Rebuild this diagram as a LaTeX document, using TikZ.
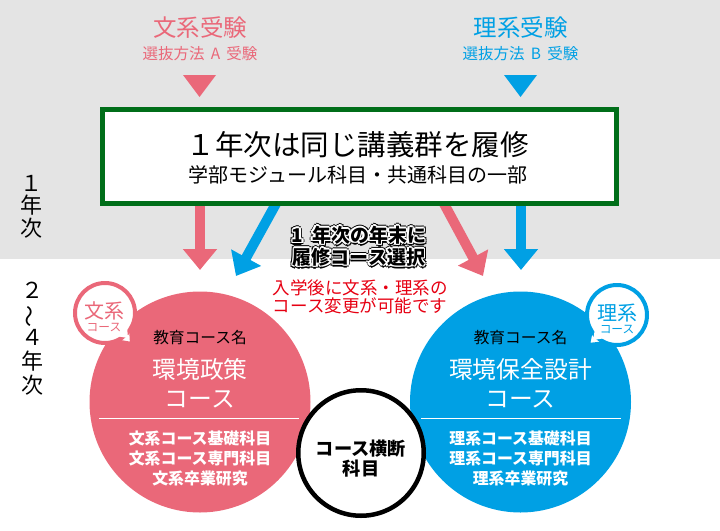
\documentclass[tikz,border=0pt]{standalone}
\usepackage{fontspec}
\setmainfont{Noto Sans CJK JP}
\usetikzlibrary{arrows.meta,calc}

\definecolor{bunpink}{RGB}{234,104,121}
\definecolor{riblue}{RGB}{0,160,228}
\definecolor{boxgreen}{RGB}{0,110,25}
\definecolor{bggray}{RGB}{228,228,228}
\definecolor{notered}{RGB}{230,0,18}

\newcommand{\fsz}[2]{\fontsize{#1}{#2}\selectfont}
\newcommand{\seltext}{1\hspace{0.45em}年次の年末に\\履修コース選択}

\tikzset{
  txt/.style={inner sep=0pt,align=center},
  bigarrow/.style={line width=10pt,-{Triangle[width=33pt,length=21pt]}},
  course/.style={circle,minimum size=221pt,inner sep=0pt},
  bubble/.style={circle,fill=white,line width=4pt,minimum size=60pt,inner sep=0pt},
  sellbl/.style={txt,font=\fsz{19}{22}\bfseries},
}

\begin{document}
\begin{tikzpicture}[x=1pt,y=-1pt]
\useasboundingbox (0,0) rectangle (720,530);
\fill[bggray] (0,0) rectangle (720,259);

% entrance exams
\node[txt,text=bunpink,font=\fsz{23.5}{26}] (bunexam) at (200,28) {文系受験};
\node[txt,text=bunpink,font=\fsz{15.5}{17}] (bunsel) at (200,53.5) {選抜方法\hspace{0.4em}A\hspace{0.4em}受験};
\fill[bunpink] (183,75) -- (216,75) -- (199.5,97) -- cycle;
\node[txt,text=riblue,font=\fsz{23.5}{26}] (riexam) at (520.5,28) {理系受験};
\node[txt,text=riblue,font=\fsz{15.5}{17}] (risel) at (520.5,53.5) {選抜方法\hspace{0.4em}B\hspace{0.4em}受験};
\fill[riblue] (504,75) -- (537,75) -- (520.5,97) -- cycle;

% year labels
\node[txt,font=\fsz{22}{22.5}] (year1) at (31,206.5) {１\\年\\次};
\node[txt,font=\fsz{22}{23.75}] (year24) at (32,338.5) {２\\\rotatebox[origin=c]{90}{〜}\\４\\年\\次};

% arrows to the courses
\coordinate (bunS) at (200,200);
\coordinate (bunT) at (200,270);
\coordinate (riS) at (521,200);
\coordinate (riT) at (521,270);
\coordinate (crossbS) at (278,200);
\coordinate (crossbT) at (236,276);
\coordinate (crosspS) at (442,200);
\coordinate (crosspT) at (483,276);
\draw[bigarrow,bunpink] (bunS) -- (bunT);
\draw[bigarrow,riblue] (crossbS) -- (crossbT);
\draw[bigarrow,bunpink] (crosspS) -- (crosspT);
\draw[bigarrow,riblue] (riS) -- (riT);

% first year box
\node[draw=boxgreen,line width=5pt,fill=white,minimum width=514pt,minimum height=94pt,inner sep=0pt] (firstyear) at (359.5,156.5) {};
\node[txt,font=\fsz{28.5}{30}] (fytitle) at (357.5,144.5) {１年次は同じ講義群を履修};
\node[txt,font=\fsz{20}{22}] (fysub) at (358,174.5) {学部モジュール科目・共通科目の一部};

% course selection label
\coordinate (selpos) at (359,246);
\foreach \a in {0,45,...,315}
  \node[sellbl,text=black] (haloout\a) at ($(selpos)+(\a:2.8pt)$) {\seltext};
\foreach \a in {0,45,...,315}
  \node[sellbl,text=white] (haloin\a) at ($(selpos)+(\a:1.7pt)$) {\seltext};
\node[sellbl,text=black] (selection) at (selpos) {\seltext};
\node[txt,text=notered,font=\fsz{17.5}{18}] (change) at (360,296.5) {入学後に文系・理系の\\コース変更が可能です};

% courses
\node[course,fill=bunpink] (bunc) at (200,402) {};
\node[course,fill=riblue] (ric) at (520.5,402) {};
\draw[white,line width=1pt] (99,418) -- (299,418);
\draw[white,line width=1pt] (421,418) -- (621,418);

\node[txt,font=\fsz{15.7}{18}] (bunlbl) at (200,338) {教育コース名};
\node[txt,text=white,font=\fsz{23.8}{29}] (bunname) at (200,383.5) {環境政策\\コース};
\node[txt,text=white,font=\fsz{15.9}{20}\bfseries] (bunsubj) at (200,458.5) {文系コース基礎科目\\文系コース専門科目\\文系卒業研究};

\node[txt,font=\fsz{15.7}{18}] (rilbl) at (520.5,338) {教育コース名};
\node[txt,text=white,font=\fsz{23.8}{29}] (riname) at (520.5,383.5) {環境保全設計\\コース};
\node[txt,text=white,font=\fsz{15.9}{20}\bfseries] (risubj) at (520.5,458.5) {理系コース基礎科目\\理系コース専門科目\\理系卒業研究};

% bubbles
\filldraw[draw=bunpink,fill=white,line width=4pt,line join=round] (131,328) -- (132,344) -- (115,341) -- cycle;
\node[bubble,draw=bunpink] (bunbub) at (105,313) {};
\fill[white] (127,327) -- (128,338) -- (116,336) -- cycle;
\node[txt,text=bunpink,font=\fsz{20}{22}] (bunbubA) at (104,311) {文系};
\node[txt,text=bunpink,font=\fsz{11.7}{13}] (bunbubB) at (104,328) {コース};

\filldraw[draw=riblue,fill=white,line width=4pt,line join=round] (591,330) -- (588,345) -- (607,343) -- cycle;
\node[bubble,draw=riblue] (ribub) at (617,315) {};
\fill[white] (595,329) -- (593,340) -- (606,338) -- cycle;
\node[txt,text=riblue,font=\fsz{20}{22}] (ribubA) at (617,313) {理系};
\node[txt,text=riblue,font=\fsz{11.7}{13}] (ribubB) at (617,330) {コース};

% cross-course subjects
\node[circle,draw=black,line width=4.5pt,fill=white,minimum size=125.5pt,inner sep=0pt] (cross) at (361,453) {};
\node[txt,font=\fsz{18.2}{19.5}\bfseries] (crosslbl) at (361,458.5) {コース横断\\科目};
\end{tikzpicture}
\end{document}
